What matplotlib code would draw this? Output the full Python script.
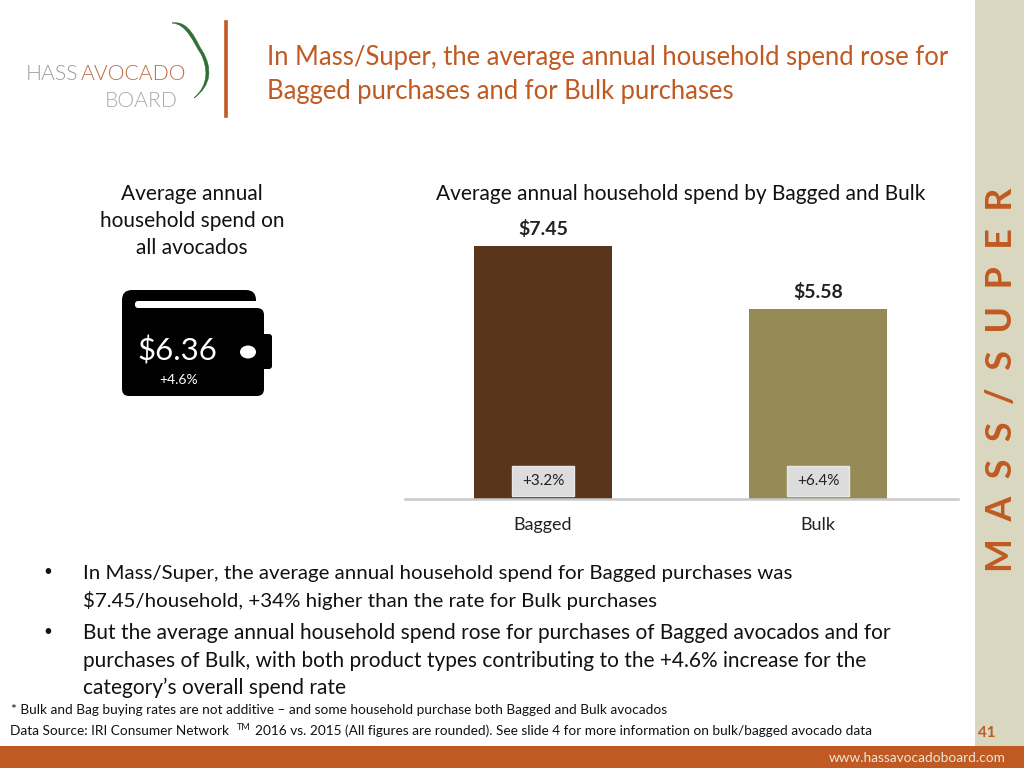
import matplotlib
matplotlib.use('Agg')
import matplotlib.pyplot as plt
from matplotlib.patches import FancyBboxPatch, Rectangle, Ellipse, PathPatch
from matplotlib.path import Path

plt.rcParams['font.family'] = ['Lato', 'DejaVu Sans']

categories = ['Bagged', 'Bulk']
spend = [7.45, 5.58]
changes = ['+3.2%', '+6.4%']
bar_colors = ['#59351b', '#958a56']

title_lines = ['In Mass/Super, the average annual household spend rose for',
               'Bagged purchases and for Bulk purchases']
left_title = ['Average annual', 'household spend on', 'all avocados']
chart_title = 'Average annual household spend by Bagged and Bulk'
total_spend = '$6.36'
total_change = '+4.6%'
bullet_1 = ['In Mass/Super, the average annual household spend for Bagged purchases was',
            '$7.45/household, +34% higher than the rate for Bulk purchases']
bullet_2 = ['But the average annual household spend rose for purchases of Bagged avocados and for',
            'purchases of Bulk, with both product types contributing to the +4.6% increase for the',
            'category\u2019s overall spend rate']
note = '* Bulk and Bag buying rates are not additive \u2013 and some household purchase both Bagged and Bulk avocados'

ORANGE = '#c05a22'
W, H = 1024, 768

fig = plt.figure(figsize=(W / 100, H / 100), dpi=100, facecolor='white')

# overlay in pixel coords, for everything that is not the chart
bg = fig.add_axes([0, 0, 1, 1])
bg.set_xlim(0, W)
bg.set_ylim(H, 0)
bg.axis('off')

bg.add_patch(Rectangle((975, 0), 49, 746, color='#dad7c1', lw=0))
bg.add_patch(Rectangle((0, 746), W, 22, color=ORANGE, lw=0))
bg.text(917, 758, 'www.hassavocadoboard.com', color='#efe6da', fontsize=9.8, ha='center', va='center')
bg.text(987, 733, '41', color=ORANGE, fontsize=11, fontweight='bold', ha='center', va='center')
bg.text(1002, 380, 'M  A  S  S  /  S  U  P  E  R', color=ORANGE, fontsize=25.8, fontweight='bold',
        rotation=90, ha='center', va='center')

# logo
bg.add_line(plt.Line2D([226, 226], [22, 116], color=ORANGE, lw=2.6))
leaf = Path([(172, 23), (190, 20), (196, 42), (203, 52), (212, 68), (212, 85), (194, 98),
             (209, 85), (208, 68), (201, 54), (193, 42), (187, 24), (172, 23)],
            [Path.MOVETO] + [Path.CURVE4] * 12)
bg.add_patch(PathPatch(leaf, fc='#2f6e35', ec='#2f6e35', lw=0.4))
bg.text(26, 74, 'HASS', color='#9a9a9a', fontsize=15.2, fontweight=300, va='center')
bg.text(81, 74, 'AVOCADO', color='#bb6a42', fontsize=15.2, fontweight=300, va='center')
bg.text(105, 101, 'BOARD', color='#a8a8a8', fontsize=15.2, fontweight=300, va='center')

for i, line in enumerate(title_lines):
    bg.text(267, 57 + i * 34.5, line, color=ORANGE, fontsize=18.45, va='center')

for i, line in enumerate(left_title):
    bg.text(192, 194 + i * 27, line, color='#111111', fontsize=15, ha='center', va='center')
bg.text(681, 194, chart_title, color='#111111', fontsize=15, ha='center', va='center')

# wallet
bg.add_patch(FancyBboxPatch((122, 290), 134, 60, boxstyle='round,pad=0,rounding_size=10', fc='black', lw=0))
bg.add_patch(FancyBboxPatch((122, 308), 142, 88, boxstyle='round,pad=0,rounding_size=7', fc='black', lw=0))
bg.add_patch(FancyBboxPatch((255, 334), 17, 35, boxstyle='round,pad=0,rounding_size=3', fc='black', lw=0))
bg.add_patch(FancyBboxPatch((135, 301), 125, 7, boxstyle='round,pad=0,rounding_size=3', fc='white', lw=0))
bg.add_patch(Ellipse((248, 352), 16, 13, fc='white', lw=0))
bg.text(177, 351, total_spend, color='white', fontsize=22.5, ha='center', va='center')
bg.text(179, 380, total_change, color='white', fontsize=10, ha='center', va='center')

# bullets
for y, line in zip([573, 600], bullet_1):
    bg.text(83, y, line, color='#111111', fontsize=14.75, va='center')
for y, line in zip([633, 661, 688], bullet_2):
    bg.text(83, y, line, color='#111111', fontsize=15, va='center')
bg.text(48, 572, '\u2022', color='#111111', fontsize=11, ha='center', va='center')
bg.text(48, 632, '\u2022', color='#111111', fontsize=11, ha='center', va='center')

bg.text(11, 710, note, color='#111111', fontsize=9.85, va='center')
bg.text(10, 731, 'Data Source: IRI Consumer Network', color='#111111', fontsize=9.85, va='center')
bg.text(237, 727, 'TM', color='#111111', fontsize=6.5, va='center')
bg.text(255, 731, '2016 vs. 2015 (All figures are rounded). See slide 4 for more information on bulk/bagged avocado data',
        color='#111111', fontsize=9.85, va='center')

# the bar chart
ax = fig.add_axes([405 / W, 1 - 499 / H, (958 - 405) / W, (499 - 220) / H])
ax.patch.set_alpha(0)
ax.bar(range(len(spend)), spend, width=0.504, color=bar_colors)
ax.set_xlim(-0.502, 1.509)
ax.set_ylim(0, 8.215)
ax.set_yticks([])
ax.set_xticks(range(len(categories)))
ax.set_xticklabels(categories, fontsize=13, color='#222222')
ax.tick_params(axis='x', length=0, pad=13)
for side in ['top', 'left', 'right']:
    ax.spines[side].set_visible(False)
ax.spines['bottom'].set_color('#c9c9c9')
ax.spines['bottom'].set_linewidth(1.8)

for i, v in enumerate(spend):
    ax.annotate('$%.2f' % v, (i, v), xytext=(0, 12.5), textcoords='offset points',
                ha='center', va='center', fontsize=14, color='#222222', fontweight='bold')
    ax.add_patch(Rectangle((i - 0.112, 0.09), 0.224, 0.88, fc='#dcdcdc', ec='#e8e8e8', lw=1))
    ax.text(i, 0.53, changes[i], ha='center', va='center', fontsize=11, color='#222222')

fig.savefig('out.png', dpi=100)
